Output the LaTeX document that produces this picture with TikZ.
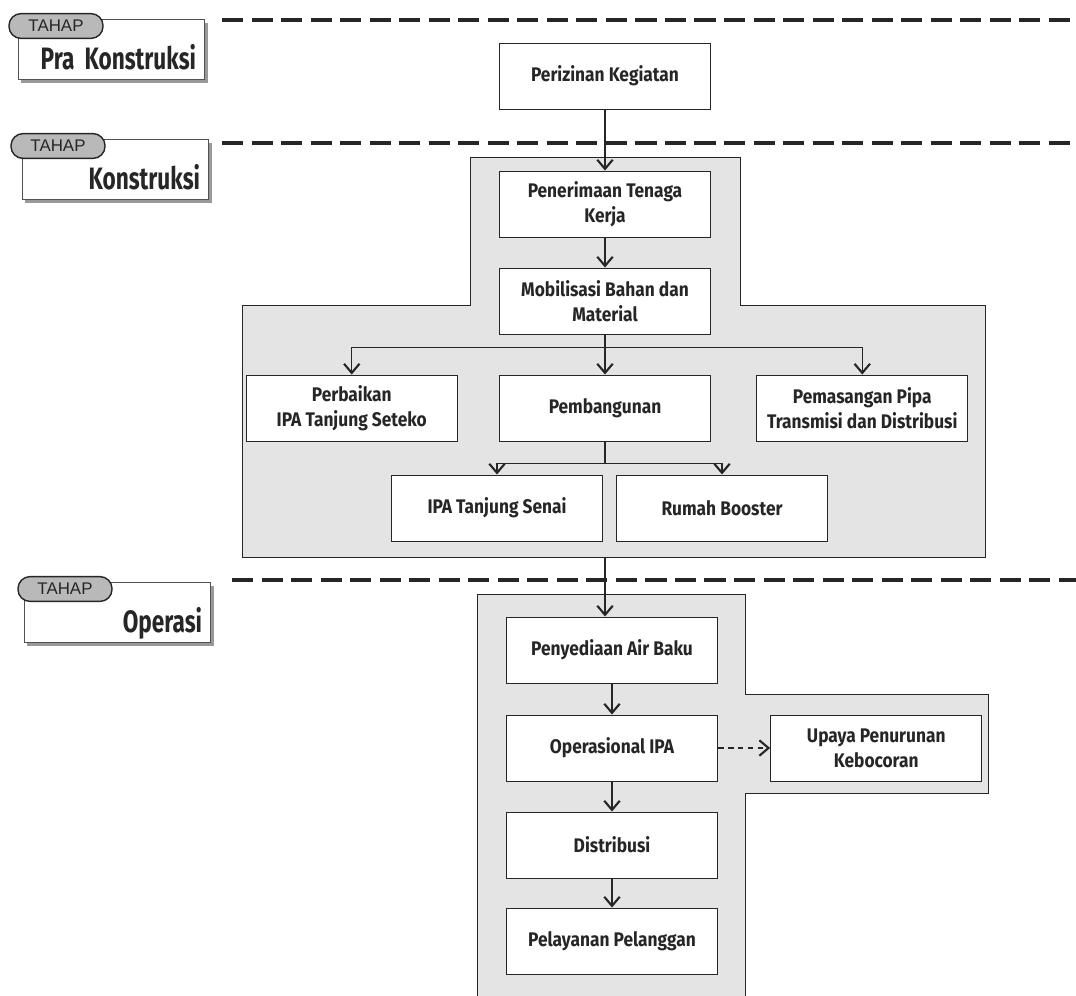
\documentclass[tikz,border=0pt]{standalone}
\usepackage{fontspec}
\setmainfont{Fira Sans}
\newfontfamily\boxfont{Fira Sans}[FakeStretch=0.88]
\newfontfamily\tagfont{Fira Sans}[FakeStretch=0.73]
\newfontfamily\tahapfont{Liberation Sans}
\usepackage{tikz}
\usetikzlibrary{arrows.meta,positioning,shadows}
\definecolor{regiongray}{RGB}{228,228,228}
\definecolor{pillgray}{RGB}{185,185,185}
\definecolor{inkgray}{RGB}{38,38,38}

\begin{document}
\begin{tikzpicture}
[
x=0.025cm, y=-0.025cm,
>={Straight Barb[length=6.5pt,width=11pt,line width=1.5pt]},
proc/.style={rectangle, draw=inkgray, fill=white, line width=0.7pt, minimum width=5.28cm, minimum height=1.65cm, align=center, text=inkgray, font=\boxfont\bfseries\fontsize{14}{18}\selectfont},
region/.style={fill=regiongray, draw=inkgray, line width=0.6pt},
phase/.style={draw=black!85, line width=2.6pt, dash pattern=on 15pt off 6pt},
tagbox/.style={rectangle, draw=inkgray!80, fill=white, line width=0.6pt, minimum width=4.65cm, minimum height=1.5cm, text width=4.25cm, inner xsep=0.2cm, inner ysep=0.2cm, text height=1.05cm, text depth=0.05cm, align=right, text=inkgray, font=\tagfont\bfseries\fontsize{22}{24}\selectfont, drop shadow={shadow xshift=2.5pt, shadow yshift=-2.5pt, fill=black!40, opacity=1}},
tagpill/.style={rectangle, rounded corners=0.3cm, draw=inkgray, fill=pillgray, line width=1pt, minimum width=2.35cm, minimum height=0.62cm, inner sep=0pt, text=inkgray, font=\tahapfont\fontsize{12}{12}\selectfont},
flow/.style={->, draw=inkgray, line width=0.8pt}
]
\useasboundingbox (0,0) rectangle (1076,995);

%Regions
\draw[region] (470,157) -- (740,157) -- (740,305) -- (985,305) -- (985,557) -- (242,557) -- (242,305) -- (470,305) -- cycle;
\draw[region] (477,594) -- (745,594) -- (745,694) -- (988,694) -- (988,793) -- (745,793) -- (745,1010) -- (477,1010) -- cycle;

%Phase lines
\draw[phase] (222,20) -- (1076,20);
\draw[phase] (222,143) -- (1076,143);
\draw[phase] (232,580) -- (1076,580);

%Tags
\node[tagbox]  (tagpra)   at (111,49)   {Pra Konstruksi};
\node[tagpill] (pillpra)  at (56,26)    {TAHAP};
\node[tagbox]  (tagkons)  at (115,169)  {Konstruksi};
\node[tagpill] (pillkons) at (58,146)   {TAHAP};
\node[tagbox]  (tagops)   at (117,612)  {Operasi};
\node[tagpill] (pillops)  at (65,589)   {TAHAP};

%Nodes
\node[proc]  (izin)     at (605,76)                    {Perizinan Kegiatan};
\node[proc]  (terima)   [below=1.525cm of izin]        {Penerimaan Tenaga\\Kerja};
\node[proc]  (mobil)    [below=0.75cm of terima]       {Mobilisasi Bahan dan\\Material};
\node[proc]  (bangun)   [below=1cm of mobil]           {Pembangunan};
\node[proc]  (perbaik)  [left=1.025cm of bangun]       {Perbaikan\\IPA Tanjung Seteko};
\node[proc]  (pasang)   [right=1.125cm of bangun]      {Pemasangan Pipa\\Transmisi dan Distribusi};
\node[proc]  (senai)    at (497,508)                   {IPA Tanjung Senai};
\node[proc]  (booster)  at (722,508)                   {Rumah Booster};
\coordinate  (kbot)     at (610,557);

\node[proc]  (sedia)    at (612,650)                   {Penyediaan Air Baku};
\node[proc]  (opsipa)   [below=0.775cm of sedia]       {Operasional IPA};
\node[proc]  (distrib)  [below=0.75cm of opsipa]       {Distribusi};
\node[proc]  (layan)    [below=0.725cm of distrib]     {Pelayanan Pelanggan};
\node[proc]  (upaya)    [right=1.3cm of opsipa]        {Upaya Penurunan\\Kebocoran};

%Lines
\path[flow]
(izin)    edge  (terima)
(terima)  edge  (mobil)
(sedia)   edge  (opsipa)
(opsipa)  edge  (distrib)
(distrib) edge  (layan);
\draw[flow] (mobil.south) -- ++(0,13) coordinate (split1) -| (perbaik.north);
\draw[flow] (split1) -| (pasang.north);
\draw[flow] (split1) -- (bangun.north);
\draw[inkgray, line width=1pt] (bangun.south) -- ++(0,22) coordinate (split2);
\draw[flow] (split2) -| (senai.north);
\draw[flow] (split2) -| (booster.north);
\draw[flow] (bangun.south |- kbot) -- (bangun.south |- sedia.north);
\draw[flow, line width=1.3pt, dash pattern=on 4pt off 3pt] (opsipa) -- (upaya);
\end{tikzpicture}
\end{document}
